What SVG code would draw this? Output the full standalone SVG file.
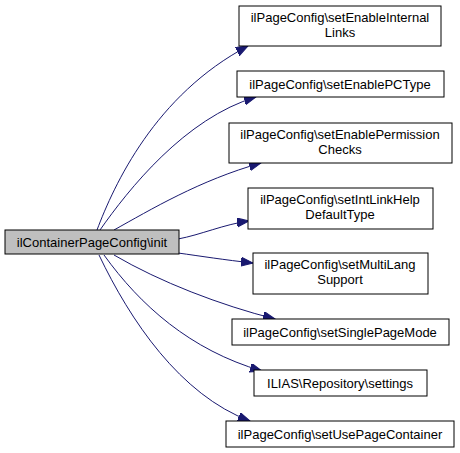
<svg xmlns="http://www.w3.org/2000/svg" width="460" height="453" viewBox="0 0 460 453">
<defs>
<style>
.n rect{fill:#fff;stroke:#000;stroke-width:1}
.n.main rect{fill:#bfbfbf}
.n text{font-family:"Liberation Sans",Arial,sans-serif;font-size:13px;text-anchor:middle;fill:#000}
.e path{fill:none;stroke:#191970;stroke-width:1;marker-end:url(#ah)}
</style>
<marker id="ah" markerUnits="userSpaceOnUse" markerWidth="14" markerHeight="10" refX="12" refY="4.5" orient="auto">
<polygon points="0,0 12,4.5 0,9" fill="#191970" stroke="#191970"/>
</marker>
</defs>
<rect width="460" height="453" fill="#fff"/>
<g id="edges" class="e">
<path d="M97,230 C114,185 155,95 248,46"/>
<path d="M100,230 C128,190 185,118 256,97"/>
<path d="M114,230 C150,210 200,180 261,163"/>
<path d="M178,239 C200,235 225,224 249,221"/>
<path d="M178,253 C200,256 225,260 253,263"/>
<path d="M114,255 C160,282 220,305 275,319"/>
<path d="M104,255 C140,305 190,350 262,371"/>
<path d="M99,255 C130,320 180,395 250,421"/>
</g>
<g id="main" class="n main"><rect x="5" y="230" width="174" height="24"/><text x="92" y="246.5">ilContainerPageConfig\init</text></g>
<g id="n1" class="n"><rect x="239" y="6" width="202" height="40"/><text x="340" y="22">ilPageConfig\setEnableInternal</text><text x="340" y="37">Links</text></g>
<g id="n2" class="n"><rect x="237" y="71" width="207" height="26"/><text x="340" y="88.5">ilPageConfig\setEnablePCType</text></g>
<g id="n3" class="n"><rect x="229" y="123" width="223" height="40"/><text x="340" y="139">ilPageConfig\setEnablePermission</text><text x="340" y="154">Checks</text></g>
<g id="n4" class="n"><rect x="248" y="188" width="185" height="41"/><text x="340" y="204">ilPageConfig\setIntLinkHelp</text><text x="340" y="219">DefaultType</text></g>
<g id="n5" class="n"><rect x="253" y="253" width="175" height="41"/><text x="340" y="269">ilPageConfig\setMultiLang</text><text x="340" y="284">Support</text></g>
<g id="n6" class="n"><rect x="232" y="319" width="217" height="26"/><text x="340" y="336.5">ilPageConfig\setSinglePageMode</text></g>
<g id="n7" class="n"><rect x="254" y="370" width="173" height="26"/><text x="340" y="387.5">ILIAS\Repository\settings</text></g>
<g id="n8" class="n"><rect x="226" y="421" width="228" height="26"/><text x="340" y="438.5">ilPageConfig\setUsePageContainer</text></g>
</svg>
